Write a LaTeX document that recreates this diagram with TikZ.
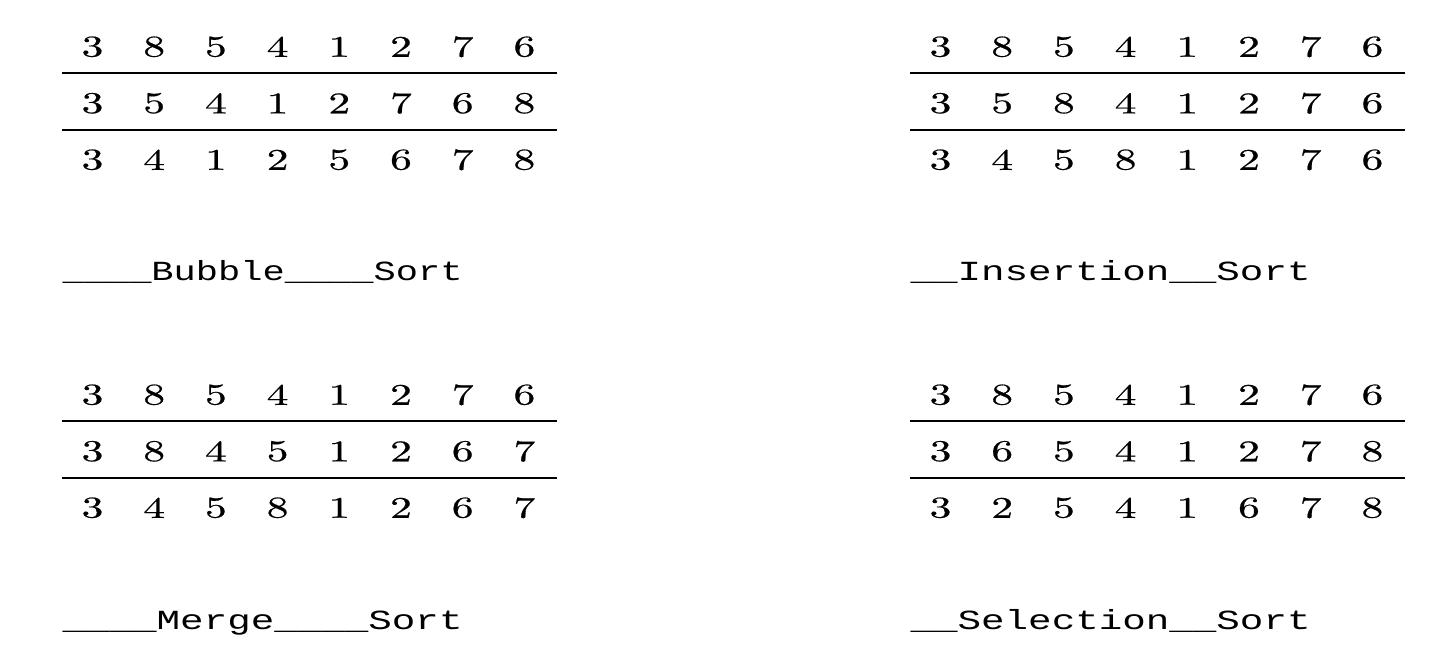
\documentclass[tikz,border=0pt]{standalone}
\usepackage{fontspec}
\usepackage{graphicx}
\newfontfamily\labelfont{Liberation Mono}
\newfontfamily\digitfont[FakeBold=0.5]{Latin Modern Roman}
\newcommand\sortlabeltext[1]{\resizebox{136pt}{\height}{\fontsize{9.4pt}{11pt}\labelfont #1}}
\newcommand\widedigit[1]{\scalebox{1.45}[1]{#1}}
\tikzset{
  digit/.style={inner sep=0pt, font=\fontsize{10.2pt}{12pt}\digitfont},
  rowline/.style={line width=0.55pt},
  sortlabel/.style={anchor=base west, inner sep=0pt}
}
% #1 name, #2 x of first digit, #3 y of first row, #4 #5 #6 rows
\newcommand\sorttable[6]{%
  \foreach \v [count=\i] in {#4} {\node[digit] (#1-a\i) at ({#2+61.7*(\i-1)},{#3}) {\widedigit{\v}};}
  \foreach \v [count=\i] in {#5} {\node[digit] (#1-b\i) at ({#2+61.7*(\i-1)},{#3+56.5}) {\widedigit{\v}};}
  \foreach \v [count=\i] in {#6} {\node[digit] (#1-c\i) at ({#2+61.7*(\i-1)},{#3+113}) {\widedigit{\v}};}
  \coordinate (#1-l1s) at ({#2-30.5},{#3+26.5});
  \coordinate (#1-l1e) at ({#2+464.5},{#3+26.5});
  \coordinate (#1-l2s) at ({#2-30.5},{#3+83.2});
  \coordinate (#1-l2e) at ({#2+464.5},{#3+83.2});
  \draw[rowline] (#1-l1s) -- (#1-l1e);
  \draw[rowline] (#1-l2s) -- (#1-l2e);
}
\begin{document}
\begin{tikzpicture}[x=0.34pt,y=-0.34pt]
\useasboundingbox (0,0) rectangle (1452,658);
\sorttable{bub}{92.5}{46.8}{3,8,5,4,1,2,7,6}{3,5,4,1,2,7,6,8}{3,4,1,2,5,6,7,8}
\sorttable{ins}{940.5}{46.8}{3,8,5,4,1,2,7,6}{3,5,8,4,1,2,7,6}{3,4,5,8,1,2,7,6}
\sorttable{mer}{92.5}{394.8}{3,8,5,4,1,2,7,6}{3,8,4,5,1,2,6,7}{3,4,5,8,1,2,6,7}
\sorttable{sel}{940.5}{394.8}{3,8,5,4,1,2,7,6}{3,6,5,4,1,2,7,8}{3,2,5,4,1,6,7,8}
\node[sortlabel] (bublabel) at (62,281) {\sortlabeltext{\_\_\_\_Bubble\_\_\_\_Sort}};
\node[sortlabel] (inslabel) at (910,281) {\sortlabeltext{\_\_Insertion\_\_Sort}};
\node[sortlabel] (merlabel) at (62,629) {\sortlabeltext{\_\_\_\_Merge\_\_\_\_Sort}};
\node[sortlabel] (sellabel) at (910,629) {\sortlabeltext{\_\_Selection\_\_Sort}};
\end{tikzpicture}
\end{document}
